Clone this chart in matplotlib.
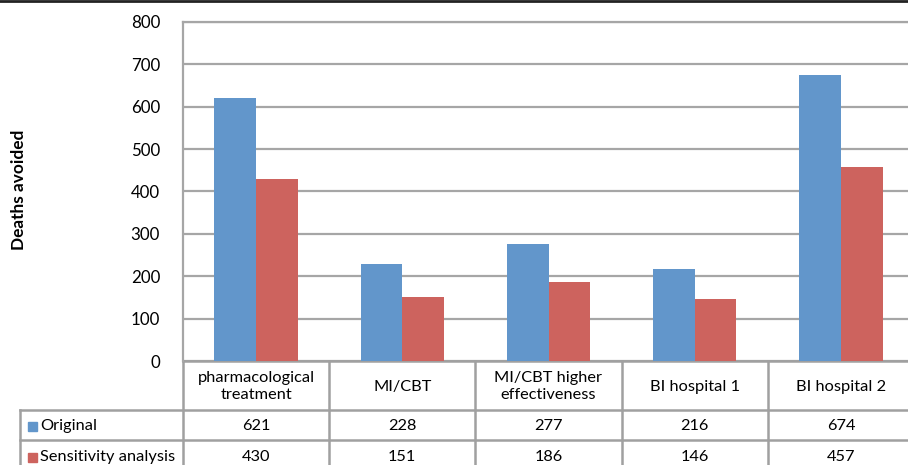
import matplotlib
matplotlib.use("Agg")
import matplotlib.pyplot as plt
import numpy as np
from matplotlib.lines import Line2D
from matplotlib.patches import Rectangle

categories = ["pharmacological\ntreatment", "MI/CBT", "MI/CBT higher\neffectiveness", "BI hospital 1", "BI hospital 2"]
series_names = ["Original", "Sensitivity analysis"]
original = [621, 228, 277, 216, 674]
sensitivity = [430, 151, 186, 146, 457]
yticks = [0, 100, 200, 300, 400, 500, 600, 700, 800]

blue = "#6296CB"
red = "#CD635E"
grid_c = "#A6A6A6"

plt.rcParams['font.family'] = ['Lato', 'DejaVu Sans']

W, H = 908, 465
fig = plt.figure(figsize=(W/100, H/100), dpi=100)
left_px, right_px, top_px, bot_px = 183, 914, 22, 361
ax = fig.add_axes([left_px/W, 1 - bot_px/H, (right_px-left_px)/W, (bot_px-top_px)/H])

x = np.arange(len(categories))
w = 0.285
ax.bar(x - w/2, original, w, color=blue, zorder=3)
ax.bar(x + w/2, sensitivity, w, color=red, zorder=3)
ax.set_xlim(-0.5, len(categories) - 0.5)
ax.set_ylim(0, 800)
ax.set_yticks(yticks)
ax.set_yticklabels([str(t) for t in yticks], fontsize=12.2)
ax.tick_params(axis='y', length=0, pad=16.5)
ax.set_xticks([])
ax.yaxis.grid(True, color=grid_c, linewidth=1.6, zorder=0)
for s in ax.spines.values():
    s.set_color(grid_c)
    s.set_linewidth(1.6)
ax.spines['bottom'].set_visible(False)

fig.text(19/W, 1 - 190/H, "Deaths avoided", rotation=90, fontsize=12.4, fontweight='bold',
         ha='center', va='center')

trans = ax.get_xaxis_transform()
axh = bot_px - top_px
def yf(py):
    return (bot_px - py) / axh
px_per_unit = (right_px - left_px) / len(categories)
xhead = -0.5 - (left_px - 20) / px_per_unit
rows_y = [361, 410, 440, 470]
lc = "#A0A0A0"
lw = 1.8
for i, py in enumerate(rows_y):
    x0 = -0.5 if i == 0 else xhead
    ax.add_line(Line2D([x0, len(categories) - 0.5], [yf(py), yf(py)], transform=trans,
                       color=lc, lw=lw, clip_on=False))
for i in range(len(categories) + 1):
    xx = i - 0.5
    ax.add_line(Line2D([xx, xx], [yf(361), yf(470)], transform=trans, color=lc, lw=lw, clip_on=False))
ax.add_line(Line2D([xhead, xhead], [yf(410), yf(470)], transform=trans, color=lc, lw=lw, clip_on=False))

fs = 11.8
for i, c in enumerate(categories):
    ax.text(i, yf(386.5), c, transform=trans, ha='center', va='center', fontsize=fs,
            linespacing=1.25, clip_on=False)
    ax.text(i, yf(426), str(original[i]), transform=trans, ha='center', va='center', fontsize=fs)
    ax.text(i, yf(457), str(sensitivity[i]), transform=trans, ha='center', va='center', fontsize=fs)

sq_w = 9 / px_per_unit
sq_h = 9 / axh
for name, col, py in [(series_names[0], blue, 426), (series_names[1], red, 457)]:
    ax.add_patch(Rectangle((-0.5 - (left_px - 28) / px_per_unit, yf(py) - sq_h/2), sq_w, sq_h,
                           transform=trans, color=col, clip_on=False))
    ax.text(-0.5 - (left_px - 40) / px_per_unit, yf(py), name, transform=trans, ha='left',
            va='center', fontsize=fs)

fig.add_artist(Line2D([0, 1], [1 - 1/H, 1 - 1/H], transform=fig.transFigure, color="#222222", lw=2))

fig.savefig("out.png", dpi=100)
